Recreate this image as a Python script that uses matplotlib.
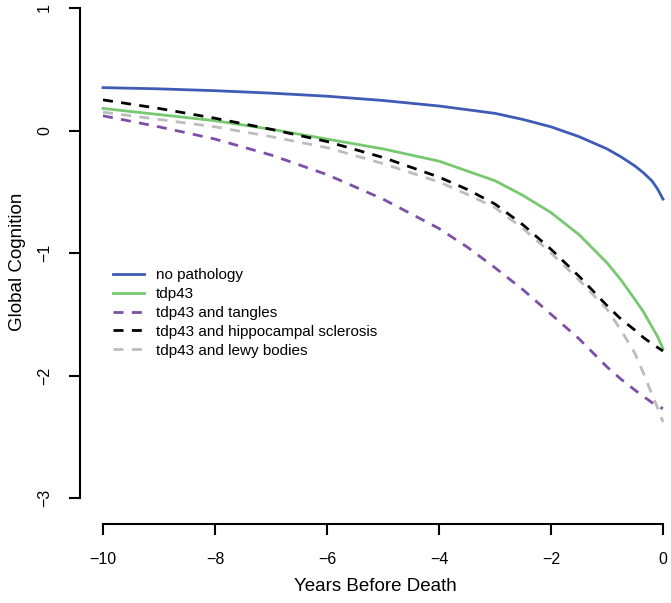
import matplotlib
matplotlib.use("Agg")
import matplotlib.pyplot as plt

plt.rcParams['font.family'] = ['Liberation Sans', 'DejaVu Sans']

# years before death and estimated global cognition per group
years = [-10, -9, -8, -7, -6, -5, -4, -3.5, -3, -2.5, -2, -1.5, -1, -0.75, -0.5, -0.35, -0.2, -0.1, 0]
no_path = [0.35, 0.34, 0.325, 0.305, 0.28, 0.245, 0.20, 0.17, 0.14, 0.09, 0.03, -0.05, -0.15, -0.215, -0.29, -0.345, -0.41, -0.475, -0.56]
tdp43 = [0.18, 0.13, 0.08, 0.01, -0.07, -0.15, -0.25, -0.33, -0.41, -0.53, -0.67, -0.85, -1.08, -1.22, -1.38, -1.48, -1.60, -1.68, -1.78]
tdp_tangles = [0.12, 0.03, -0.07, -0.20, -0.36, -0.56, -0.80, -0.95, -1.12, -1.30, -1.50, -1.70, -1.93, -2.03, -2.12, -2.17, -2.22, -2.25, -2.27]
tdp_hs = [0.25, 0.18, 0.10, 0.01, -0.09, -0.22, -0.38, -0.48, -0.60, -0.77, -0.97, -1.19, -1.43, -1.54, -1.63, -1.69, -1.74, -1.77, -1.80]
tdp_lewy = [0.15, 0.09, 0.03, -0.05, -0.14, -0.27, -0.42, -0.52, -0.63, -0.80, -1.00, -1.22, -1.46, -1.63, -1.82, -1.98, -2.15, -2.26, -2.38]

labels = ['no pathology', 'tdp43', 'tdp43 and tangles',
          'tdp43 and hippocampal sclerosis', 'tdp43 and lewy bodies']
x_ticks = [-10, -8, -6, -4, -2, 0]
y_ticks = [-3, -2, -1, 0, 1]

W, H = 671, 603
fig = plt.figure(figsize=(W / 100, H / 100), dpi=100)
# axes box in pixels: left 80, right 671, top 0, bottom 524
ax = fig.add_axes([80 / W, (H - 524) / H, (W - 80) / W, 524 / H])
ax.set_xlim(-10 - 23 / 56, 0 + 8 / 56)
ax.set_ylim(-3 - 26 / 122.5, 1 + 8 / 122.5)

lw = 2.0
dash = (3.6, 3.0)
ax.plot(years, no_path, color='#3F5BB5', lw=lw, label=labels[0])
ax.plot(years, tdp43, color='#77C970', lw=lw, label=labels[1])
ax.plot(years, tdp_tangles, color='#7D4FA8', lw=lw, dashes=dash, label=labels[2])
ax.plot(years, tdp_hs, color='black', lw=lw, dashes=dash, label=labels[3])
ax.plot(years, tdp_lewy, color='#BDBDBD', lw=lw, dashes=dash, label=labels[4])

for s in ['top', 'right']:
    ax.spines[s].set_visible(False)
ax.spines['left'].set_bounds(-3, 1)
ax.spines['bottom'].set_bounds(-10, 0)
for s in ['left', 'bottom']:
    ax.spines[s].set_linewidth(1.5)

ax.set_xticks(x_ticks)
ax.set_xticklabels([str(t).replace('-', '\u2212') for t in x_ticks])
ax.set_yticks(y_ticks)
ax.set_yticklabels([str(t).replace('-', '\u2212') for t in y_ticks],
                   rotation=90, va='center')
ax.tick_params(length=8, width=1.5, labelsize=11.5, pad=12)

ax.set_xlabel('Years Before Death', fontsize=13.5, labelpad=8)
ax.set_ylabel('Global Cognition', fontsize=13.5, labelpad=8)

ax.legend(loc='upper left', bbox_to_anchor=((107 - 80) / (W - 80), 1 - 262 / 524),
          frameon=False, fontsize=11, handlelength=2.0, handletextpad=0.8,
          labelspacing=0.32, borderaxespad=0)

fig.savefig('out.png', dpi=100)
